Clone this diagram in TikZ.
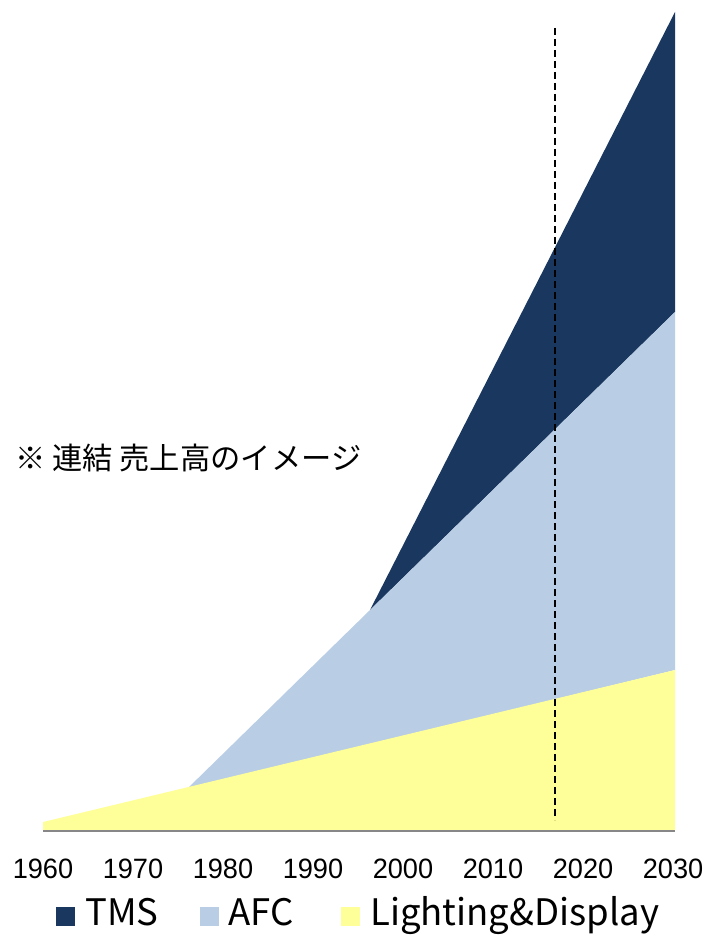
\documentclass[tikz,border=0pt]{standalone}
\usepackage{fontspec}
\setmainfont{Noto Sans CJK JP}
\newfontfamily\chartfont[FakeStretch=0.97]{Liberation Sans}
\usepackage{tikz}
\usetikzlibrary{positioning}
\definecolor{tmsblue}{HTML}{1A3760}
\definecolor{afcblue}{HTML}{B9CDE4}
\definecolor{ldyellow}{HTML}{FFFF99}
\definecolor{axisgray}{HTML}{878787}
\tikzset{
    yearlabel/.style={inner sep=0pt,anchor=base,font=\chartfont\fontsize{28}{30}\selectfont},
    legendbox/.style={minimum size=19pt,inner sep=0pt},
    legendtext/.style={inner sep=0pt,anchor=base west,font=\fontsize{36.5}{38}\selectfont}
}

\begin{document}
\begin{tikzpicture}[x=1pt,y=-1pt]
    \useasboundingbox (0,0) rectangle (709,936);
    \coordinate (y1960) at (43,831);
    \coordinate (y2030) at (675,831);
    \coordinate (ld0) at (43,822);
    \coordinate (ld1) at (187,789);
    \coordinate (ld2) at (675,670);
    \coordinate (afc1) at (370,610);
    \coordinate (afc2) at (675,312);
    \coordinate (tms2) at (675,12);
    \coordinate (now0) at (555,28);
    \coordinate (now1) at (555,820);
    \fill[tmsblue] (afc1) -- (tms2) -- (afc2) -- cycle;
    \fill[afcblue] (ld1) -- (afc1) -- (afc2) -- (ld2) -- cycle;
    \fill[ldyellow] (y1960) -- (ld0) -- (ld2) -- (y2030) -- cycle;
    \draw[axisgray,line width=2pt] (y1960) -- (y2030);
    \draw[line width=2pt,dash pattern=on 7pt off 4pt] (now0) -- (now1);
    \foreach \yr in {1960,1970,...,2030}
        \node[yearlabel] (yr\yr) at ({43+9*(\yr-1960)},878) {\yr};
    \node[anchor=west,inner sep=0pt,font=\fontsize{30.3}{32}\selectfont] (note) at (15,458) {※ 連結 売上高のイメージ};
    \node[legendbox,fill=tmsblue] (tmsbox) at (65.5,916) {};
    \node[legendtext] (tmstext) at (85,925) {TMS};
    \node[legendbox,fill=afcblue] (afcbox) at (209.5,916) {};
    \node[legendtext] (afctext) at (228,925) {AFC};
    \node[legendbox,fill=ldyellow] (ldbox) at (350,916) {};
    \node[legendtext] (ldtext) at (370,925) {Lighting\&Display};
\end{tikzpicture}
\end{document}
